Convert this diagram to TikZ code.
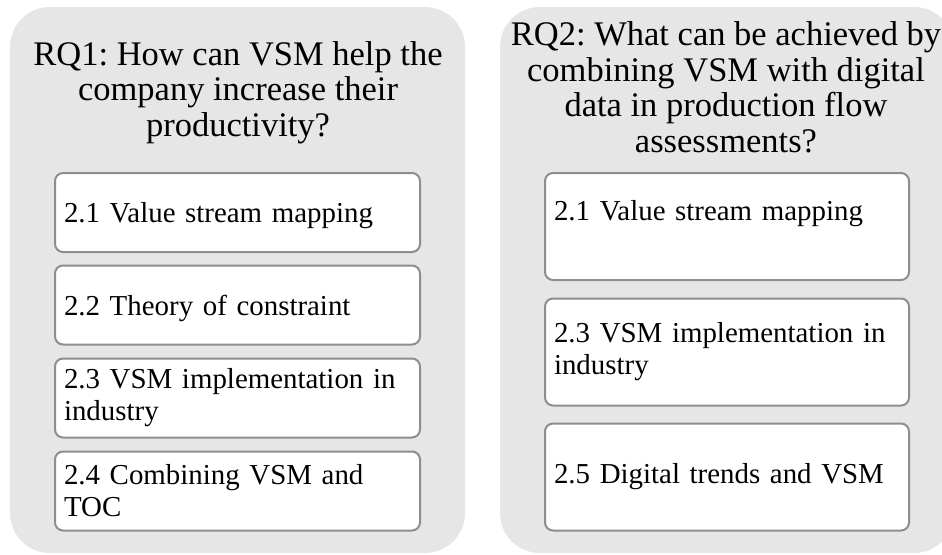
\documentclass[tikz,border=0pt]{standalone}
\usepackage{fontspec}
\setmainfont{Liberation Serif}
\frenchspacing
\definecolor{panelgray}{HTML}{E6E6E6}
\definecolor{edgegray}{HTML}{8E8E8E}
\tikzset{
  panel/.style={fill=panelgray, rounded corners=40pt, inner sep=0pt},
  heading/.style={align=center, inner sep=0pt, anchor=north,
    font=\fontsize{34.5}{35.5}\selectfont},
  topic/.style={draw=edgegray, line width=2pt, fill=white, rounded corners=8pt,
    align=left, inner xsep=9pt, inner ysep=0pt,
    font=\fontsize{28.9}{32}\selectfont},
  topicL/.style={topic, text width=347pt, minimum height=79pt},
  topicR/.style={topic, text width=346pt, minimum height=107pt},
  flat/.style={text depth=0pt},
}
\begin{document}
\begin{tikzpicture}[x=1pt, y=-1pt]
  \useasboundingbox (0,0) rectangle (942,554);
  \clip (0,0) rectangle (942,554);

  % two grey panels, the right one runs past the page edge
  \fill[panel] (10,7) rectangle (465,553);
  \fill[panel] (500,7) rectangle (954,553);

  % research question 1
  \node[heading] (rq1) at (238,41)
    {RQ1: How can VSM help the\\company increase their\\productivity?};
  \node[topicL, flat] (l1) at (237.5,212.5) {2.1 Value stream mapping};
  \node[topicL, flat] (l2) at (237.5,305) {2.2 Theory of constraint};
  \node[topicL] (l3) at (237.5,398) {2.3 VSM implementation in\\industry};
  \node[topicL] (l4) at (237.5,491) {2.4 Combining VSM and\\TOC};

  % research question 2
  \node[heading] (rq2) at (726,21.6)
    {RQ2: What can be achieved by\\combining VSM with digital\\data in production flow\\assessments?};
  \node[topicR] (r1) at (727,226.5) {2.1 Value stream mapping\\~};
  \node[topicR] (r2) at (727,352) {2.3 VSM implementation in\\industry};
  \node[topicR] (r3) at (727,477) {2.5 Digital trends and VSM};
\end{tikzpicture}
\end{document}
